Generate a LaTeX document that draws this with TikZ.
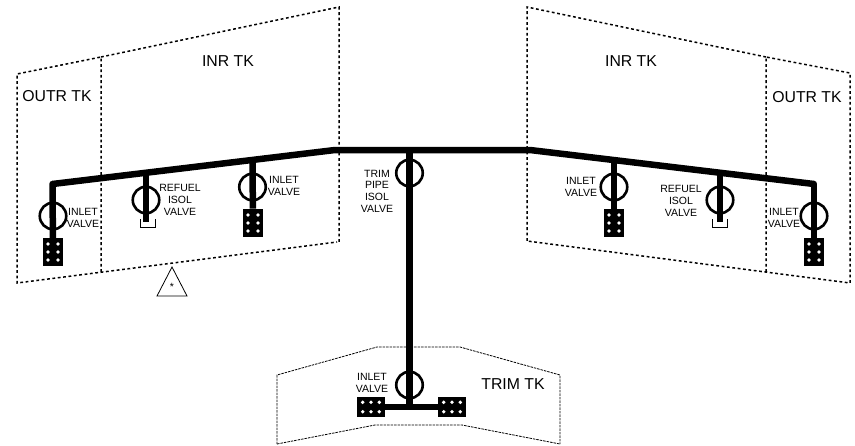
\documentclass[tikz,border=0pt]{standalone}
\usepackage{fontspec}
\setmainfont{Liberation Sans}
\usetikzlibrary{calc}
\tikzset{
  tankline/.style={line width=1.5pt, dash pattern=on 2.8pt off 2.6pt},
  trimline/.style={line width=0.8pt, dash pattern=on 2.5pt off 1pt},
  pipeline/.style={line width=6.5pt, line join=round},
  feedline/.style={line width=6.5pt},
  valvering/.style={circle, draw, line width=2.6pt, minimum size=26.5pt, inner sep=0pt},
  pumpbox/.style={fill=black, draw=none, minimum width=19.5pt, minimum height=28.5pt, inner sep=0pt},
  trimbox/.style={fill=black, draw=none, minimum width=28pt, minimum height=19.5pt, inner sep=0pt},
  tanklabel/.style={font=\fontsize{15.8}{18}\selectfont, inner sep=0pt},
  valvelabel/.style={font=\fontsize{10.5}{11.7}\selectfont, align=center, inner sep=0pt},
}
\newcommand{\pumpdots}[1]{%
  \foreach \dx in {-5,5} \foreach \dy in {-8,0,8}
    \fill[white] ($(#1)+(\dx,\dy)$) circle (1.9pt);}
\newcommand{\trimdots}[1]{%
  \foreach \dx in {-8.3,0,8.3} \foreach \dy in {-4.7,4.7}
    \fill[white] ($(#1)+(\dx,\dy)$) circle (1.9pt);}
\begin{document}
\begin{tikzpicture}[x=1pt,y=-1pt]
  \useasboundingbox (0,0) rectangle (855,445);
  % tanks
  \draw[tankline] (101,272) -- (101,57) -- (17,74) -- (17,283) -- (337,242);
  \draw[tankline] (101,57) -- (339,7) -- (339,242);
  \draw[tankline] (766,272) -- (766,57) -- (850,73) -- (850,283) -- (527,241);
  \draw[tankline] (766,57) -- (527,7) -- (527,241);
  \draw[trimline] (277,444) -- (277,375) -- (377,347) -- (460,347) -- (560,375) -- (560,444);
  \draw[trimline] (277,444) -- (375,425) -- (462,425) -- (560,444);
  \node[tanklabel] (inrl) at (228,61) {INR TK};
  \node[tanklabel] (outrl) at (57,96) {OUTR TK};
  \node[tanklabel] (inrr) at (631,61) {INR TK};
  \node[tanklabel] (outrr) at (807,97) {OUTR TK};
  \node[tanklabel] (trimtk) at (513,384) {TRIM TK};
  % pipe junctions
  \coordinate (lend) at (52.5,184);
  \coordinate (lbend) at (335,150);
  \coordinate (tee) at (409.5,150);
  \coordinate (rbend) at (530,150);
  \coordinate (rend) at (814,184);
  \coordinate (rfltop) at (146,174);
  \coordinate (inltop) at (252.5,162);
  \coordinate (inrtop) at (614,162);
  \coordinate (rfrtop) at (720,174);
  \coordinate (rflend) at (146,222);
  \coordinate (rfrend) at (720,222);
  \coordinate (trimtee) at (409.5,406);
  % pumps
  \node[pumpbox] (pumpa) at (53,252) {};
  \node[pumpbox] (pumpb) at (253,223) {};
  \node[pumpbox] (pumpc) at (614,223) {};
  \node[pumpbox] (pumpd) at (814,252) {};
  \node[trimbox] (pumpe) at (371,407) {};
  \node[trimbox] (pumpf) at (452,407) {};
  % pipes
  \draw[pipeline] (lend) -- (lbend) -- (rbend) -- (rend);
  \draw[feedline, line cap=round] (lend) -- (pumpa);
  \draw[feedline, line cap=round] (rend) -- (pumpd);
  \draw[feedline] (inltop) -- (pumpb);
  \draw[feedline] (inrtop) -- (pumpc);
  \draw[feedline] (rfltop) -- (rflend);
  \draw[feedline] (rfrtop) -- (rfrend);
  \draw[feedline] (tee) -- (trimtee);
  \draw[feedline] (pumpe) -- (pumpf);
  \pumpdots{pumpa}
  \pumpdots{pumpb}
  \pumpdots{pumpc}
  \pumpdots{pumpd}
  \trimdots{pumpe}
  \trimdots{pumpf}
  % valves
  \node[valvering] (vala) at (53,216) {};
  \node[valvering] (valb) at (146,200) {};
  \node[valvering] (valc) at (252.5,187) {};
  \node[valvering] (vald) at (409.5,173) {};
  \node[valvering] (vale) at (614,187) {};
  \node[valvering] (valf) at (720,200) {};
  \node[valvering] (valg) at (814,216) {};
  \node[valvering] (valh) at (409.5,385) {};
  \draw[line width=1pt] (140.5,219) -- (140.5,227) -- (155.5,227) -- (155.5,219);
  \draw[line width=1pt] (712,219) -- (712,227) -- (727.5,227) -- (727.5,219);
  % valve labels
  \node[valvelabel] (labela) at (83,218) {INLET\\VALVE};
  \node[valvelabel] (labelb) at (180,200) {REFUEL\\ISOL\\VALVE};
  \node[valvelabel] (labelc) at (284,186) {INLET\\VALVE};
  \node[valvelabel] (labeld) at (377,191) {TRIM\\PIPE\\ISOL\\VALVE};
  \node[valvelabel] (labele) at (581,187) {INLET\\VALVE};
  \node[valvelabel] (labelf) at (681,201) {REFUEL\\ISOL\\VALVE};
  \node[valvelabel] (labelg) at (784,218) {INLET\\VALVE};
  \node[valvelabel] (labelh) at (372,383) {INLET\\VALVE};
  % note triangle
  \coordinate (triapex) at (172,267);
  \coordinate (trileft) at (157,296);
  \coordinate (triright) at (187,296);
  \draw[line width=0.8pt] (triapex) -- (trileft) -- (triright) -- cycle;
  \node[valvelabel] (star) at (172,287) {*};
\end{tikzpicture}
\end{document}
